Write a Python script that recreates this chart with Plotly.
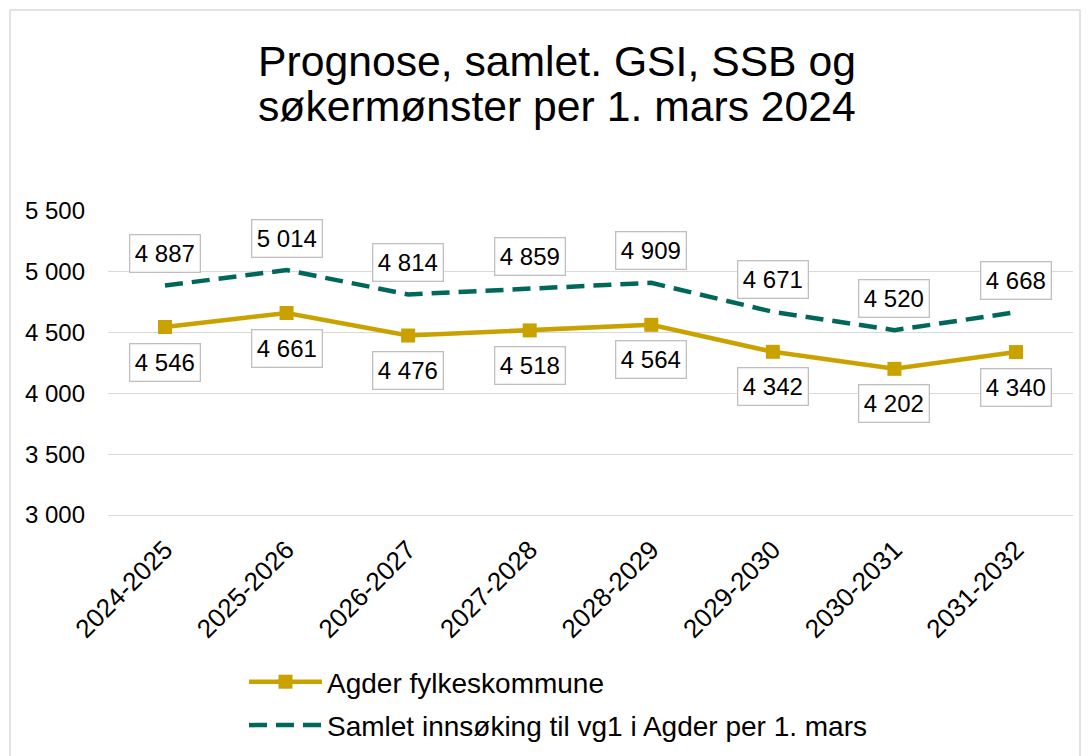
import plotly.graph_objects as go

# skoleår
years = ["2024-2025", "2025-2026", "2026-2027", "2027-2028",
         "2028-2029", "2029-2030", "2030-2031", "2031-2032"]

agder = [4546, 4661, 4476, 4518, 4564, 4342, 4202, 4340]
innsoking = [4887, 5014, 4814, 4859, 4909, 4671, 4520, 4668]

name_agder = "Agder fylkeskommune"
name_innsoking = "Samlet innsøking til vg1 i Agder per 1. mars"
title_lines = ["Prognose, samlet. GSI, SSB og", "søkermønster per 1. mars 2024"]

gold = "#CAA200"
green = "#00685B"
grid = "#D9D9D9"
font = "Liberation Sans, Arial, sans-serif"

W, H = 1090, 756
L, R, T, B = 108, 17, 211, 241
pw = W - L - R
ph = H - T - B


def px_x(x):
    # piksel -> paper
    return (x - L) / pw


def px_y(y):
    return (H - B - y) / ph


def fmt(v):
    return f"{v:,}".replace(",", " ")


fig = go.Figure()
fig.add_trace(go.Scatter(
    x=years, y=agder, name=name_agder, mode="lines+markers",
    line=dict(color=gold, width=4.5),
    marker=dict(symbol="square", size=14, color=gold),
    legendgroup="a",
))
fig.add_trace(go.Scatter(
    x=years, y=innsoking, name=name_innsoking, mode="lines",
    line=dict(color=green, width=4.5, dash="18px,9px"),
    legendgroup="b",
))

# dataetiketter
label_style = dict(showarrow=False, font=dict(size=24, color="black", family=font),
                   bgcolor="white", bordercolor="#BFBFBF", borderwidth=1.3,
                   borderpad=4.5)
for yr, v in zip(years, innsoking):
    fig.add_annotation(x=yr, y=v, text=fmt(v), yshift=32, **label_style)
for yr, v in zip(years, agder):
    fig.add_annotation(x=yr, y=v, text=fmt(v), yshift=-35, **label_style)

# tittel, to linjer
for txt, yc in zip(title_lines, [61, 106]):
    fig.add_annotation(xref="paper", yref="paper", x=px_x(556.5), y=px_y(yc),
                       xanchor="center", yanchor="middle", text=txt, showarrow=False,
                       font=dict(size=42.7, color="black", family=font))

# ramme rundt diagrammet
fig.add_shape(type="rect", xref="paper", yref="paper",
              x0=px_x(10), x1=px_x(1080), y0=px_y(830), y1=px_y(10),
              line=dict(color=grid, width=1.5), layer="below")

fig.update_layout(
    width=W, height=H,
    margin=dict(l=L, r=R, t=T, b=B, autoexpand=False),
    paper_bgcolor="white", plot_bgcolor="white",
    separators=", ",
    font=dict(family=font, color="black"),
    showlegend=True,
    legend=dict(orientation="v", x=px_x(244), xanchor="left",
                y=px_y(657), yanchor="top",
                font=dict(size=28, color="black", family=font),
                traceorder="grouped", tracegroupgap=4, itemwidth=73,
                bgcolor="rgba(0,0,0,0)"),
    hovermode=False,
)
# x-aksens linje fungerer som gridlinjen ved 3 000
fig.update_xaxes(showgrid=False, showline=True, linecolor=grid, linewidth=1.3,
                 zeroline=False, ticks="",
                 tickangle=-45, ticklabelstandoff=8, automargin=False,
                 tickfont=dict(size=26, color="black", family=font))
fig.update_yaxes(range=[3000, 5500], dtick=500, tickformat=",d",
                 showgrid=True, gridcolor=grid, gridwidth=1.3,
                 zeroline=False, showline=False, ticks="", automargin=False,
                 ticklabelstandoff=22,
                 tickfont=dict(size=24, color="black", family=font))

fig.write_html("out.html", config={"displayModeBar": False},
               post_script="document.body.style.margin='0';")
